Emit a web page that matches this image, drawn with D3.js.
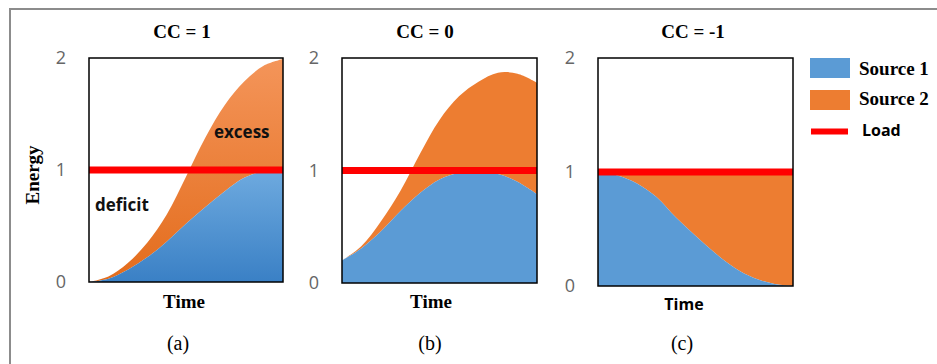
<!DOCTYPE html>
<html>
<head>
<meta charset="utf-8">
<script src="https://cdn.jsdelivr.net/npm/d3@7"></script>
<style>
  body { margin: 0; background: #fff; }
  svg { display: block; }
</style>
</head>
<body>
<svg id="chart" width="937" height="364"></svg>
<script>
// ---- data ----
const timeSteps = [0, 1, 2, 3, 4, 5, 6, 7, 8, 9, 10];
const panelTitles = ["CC = 1", "CC = 0", "CC = -1"];
const panelTags = ["(a)", "(b)", "(c)"];
const energyTicks = [0, 1, 2];
const loadLevel = 1;

// CC = 1 : both sources rise together
const source1A = [0, 0.03, 0.11, 0.22, 0.36, 0.52, 0.67, 0.81, 0.93, 0.99, 1.00];
const source2A = [0, 0.02, 0.06, 0.13, 0.24, 0.42, 0.62, 0.77, 0.86, 0.94, 0.99];
// CC = 0 : uncorrelated sources
const source1B = [0.20, 0.31, 0.46, 0.64, 0.80, 0.92, 0.98, 0.99, 0.97, 0.90, 0.79];
const source2B = [0, 0.02, 0.09, 0.18, 0.35, 0.53, 0.68, 0.80, 0.90, 0.96, 0.99];
// CC = -1 : sources are complementary
const source1C = [1.00, 0.97, 0.90, 0.78, 0.60, 0.44, 0.29, 0.16, 0.07, 0.02, 0];
const source2C = [0, 0.03, 0.10, 0.22, 0.40, 0.56, 0.71, 0.84, 0.93, 0.98, 1.00];

const legendLabels = ["Source 1", "Source 2", "Load"];
const axisTitleY = "Energy";
const axisTitleX = "Time";

// ---- styling ----
const BLUE = "#5b9bd5", ORANGE = "#ed7d31", RED = "#ff0000";
const SERIF = "'Liberation Serif', 'Times New Roman', serif";
const SANS = "'Open Sans', 'Noto Sans', sans-serif";

const svg = d3.select("#chart");
const defs = svg.append("defs");

// outer frame (top and left edges)
svg.append("path")
  .attr("d", "M10,364 L10,9 L937,9")
  .attr("fill", "none").attr("stroke", "#8c8c8c").attr("stroke-width", 2);

// gradients used by the first panel
const gB = defs.append("linearGradient").attr("id", "gradBlue")
  .attr("gradientUnits", "userSpaceOnUse").attr("x1", 0).attr("x2", 0).attr("y1", 170).attr("y2", 282);
gB.append("stop").attr("offset", 0).attr("stop-color", "#6eaadf");
gB.append("stop").attr("offset", 1).attr("stop-color", "#3a80c5");
const gO = defs.append("linearGradient").attr("id", "gradOrange")
  .attr("gradientUnits", "userSpaceOnUse").attr("x1", 0).attr("x2", 0).attr("y1", 58).attr("y2", 282);
gO.append("stop").attr("offset", 0).attr("stop-color", "#f4955a");
gO.append("stop").attr("offset", 1).attr("stop-color", "#e36c1c");

const panels = [
  { s1: source1A, s2: source2A, left: 89, right: 283, top: 58, bottom: 282,
    titleX: 182, timeX: 184, tagX: 178, serifTime: true,
    fill1: "url(#gradBlue)", fill2: "url(#gradOrange)" },
  { s1: source1B, s2: source2B, left: 342, right: 537, top: 58, bottom: 283,
    titleX: 425, timeX: 431, tagX: 430, serifTime: true,
    fill1: BLUE, fill2: ORANGE },
  { s1: source1C, s2: source2C, left: 598, right: 793, top: 58, bottom: 286,
    titleX: 693, timeX: 684, tagX: 682, serifTime: false,
    fill1: BLUE, fill2: ORANGE }
];

panels.forEach((p, i) => {
  const x = d3.scaleLinear().domain(d3.extent(timeSteps)).range([p.left, p.right]);
  const y = d3.scaleLinear().domain([0, 2]).range([p.bottom, p.top]);

  const rows = timeSteps.map((t, k) => ({ t, s1: p.s1[k], s2: p.s2[k] }));
  const stacked = d3.stack().keys(["s1", "s2"])(rows);

  const area = d3.area()
    .x(d => x(d.data.t))
    .y0(d => y(d[0]))
    .y1(d => y(d[1]))
    .curve(d3.curveCatmullRom.alpha(0.5));

  const clipId = "clip" + i;
  defs.append("clipPath").attr("id", clipId).append("rect")
    .attr("x", p.left).attr("y", p.top)
    .attr("width", p.right - p.left).attr("height", p.bottom - p.top);

  const g = svg.append("g");
  const areas = g.append("g").attr("clip-path", `url(#${clipId})`);
  areas.append("path").datum(stacked[1]).attr("d", area).attr("fill", p.fill2);
  areas.append("path").datum(stacked[0]).attr("d", area).attr("fill", p.fill1);

  // load line
  g.append("line")
    .attr("x1", x.range()[0]).attr("x2", x.range()[1])
    .attr("y1", y(loadLevel)).attr("y2", y(loadLevel))
    .attr("stroke", RED).attr("stroke-width", 7);

  // plot frame
  g.append("rect")
    .attr("x", p.left).attr("y", p.top)
    .attr("width", p.right - p.left).attr("height", p.bottom - p.top)
    .attr("fill", "none").attr("stroke", "#000").attr("stroke-width", 1.5);

  // y axis tick labels
  const ax = g.append("g").attr("transform", `translate(${p.left},0)`)
    .call(d3.axisLeft(y).tickValues(energyTicks).tickSize(0).tickPadding(23).tickFormat(d3.format("d")));
  ax.select(".domain").remove();
  ax.selectAll("text")
    .attr("font-family", SANS).attr("font-size", 18).attr("fill", "#666");

  // panel title
  g.append("text").attr("x", p.titleX).attr("y", 38)
    .attr("text-anchor", "middle").attr("font-family", SERIF)
    .attr("font-weight", "bold").attr("font-size", 19).text(panelTitles[i]);

  // x axis title
  g.append("text").attr("x", p.timeX).attr("y", p.serifTime ? 308 : 310)
    .attr("text-anchor", "middle")
    .attr("font-family", p.serifTime ? SERIF : SANS)
    .attr("font-weight", "bold").attr("font-size", p.serifTime ? 19 : 16)
    .text(axisTitleX);

  // panel tag
  g.append("text").attr("x", p.tagX).attr("y", 350)
    .attr("text-anchor", "middle").attr("font-family", SERIF)
    .attr("font-size", 20).text(panelTags[i]);
});

// y axis title
svg.append("text")
  .attr("transform", "translate(39,175) rotate(-90)")
  .attr("text-anchor", "middle").attr("font-family", SERIF)
  .attr("font-weight", "bold").attr("font-size", 19).text(axisTitleY);

// annotations in the first panel
svg.append("text").attr("x", 214).attr("y", 138)
  .attr("font-family", SANS).attr("font-weight", "bold").attr("font-size", 17)
  .attr("fill", "#111").text("excess");
svg.append("text").attr("x", 95).attr("y", 211)
  .attr("font-family", SANS).attr("font-weight", "bold").attr("font-size", 17)
  .attr("fill", "#111").text("deficit");

// legend
const legend = svg.append("g");
legend.append("rect").attr("x", 810).attr("y", 58).attr("width", 40).attr("height", 20).attr("fill", BLUE);
legend.append("rect").attr("x", 810).attr("y", 90).attr("width", 40).attr("height", 20).attr("fill", ORANGE);
legend.append("line").attr("x1", 811).attr("x2", 848).attr("y1", 131.5).attr("y2", 131.5)
  .attr("stroke", RED).attr("stroke-width", 6);
legend.append("text").attr("x", 859).attr("y", 75).attr("font-family", SERIF)
  .attr("font-weight", "bold").attr("font-size", 19).text(legendLabels[0]);
legend.append("text").attr("x", 859).attr("y", 105).attr("font-family", SERIF)
  .attr("font-weight", "bold").attr("font-size", 19).text(legendLabels[1]);
legend.append("text").attr("x", 862).attr("y", 136).attr("font-family", SANS)
  .attr("font-weight", "bold").attr("font-size", 16).text(legendLabels[2]);
</script>
</body>
</html>
